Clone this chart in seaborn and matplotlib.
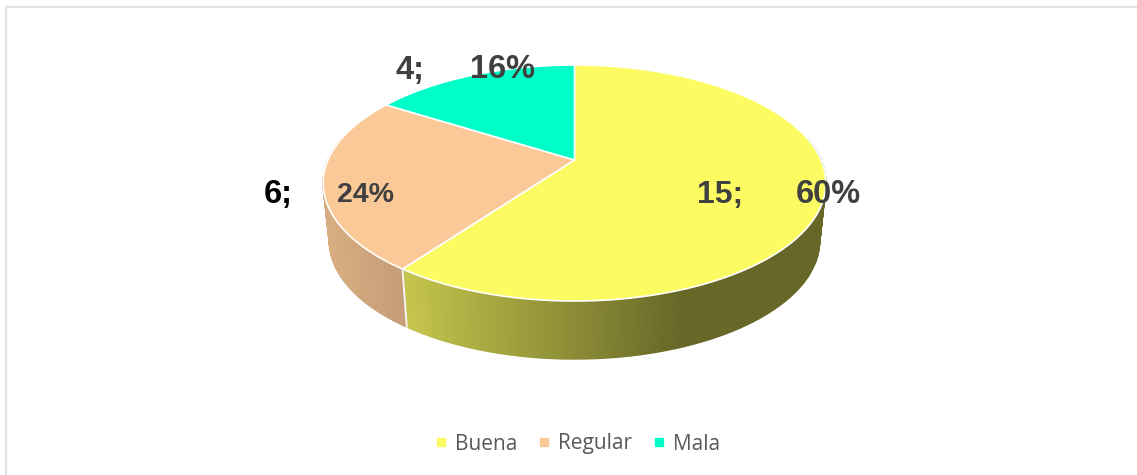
"""3D-look pie chart: calificacion Buena / Regular / Mala."""
import matplotlib
matplotlib.use("Agg")
import matplotlib.pyplot as plt
import numpy as np
import seaborn as sns

sns.set_theme(style="white")
plt.rcParams["font.family"] = ["Liberation Sans", "DejaVu Sans"]

categories = ["Buena", "Regular", "Mala"]
values = [15, 6, 4]
colors = ["#FCFC62", "#FBC997", "#00FFC8"]
label_color = "#404040"

# pie geometry in image pixels: apex, radii, perspective, rim depth, bottom rim shrink
CX, CY, RX, RY, K, DEPTH, SHRINK = 574.5, 160, 246.5, 113.5, 0.195, 58, 0.975


def project(theta):
    """Clockwise angle from 12 o'clock -> tilted disc (pixels)."""
    u, v = np.sin(theta), -np.cos(theta)
    w = 1 - K * v
    return CX + RX * u / w, CY + RY * v / w


def shade(x, base):
    """Side wall shading along x, darkest past x=680."""
    return np.array(base) * np.interp(x, [325, 405, 680], [0.86, 0.78, 0.41])


fig = plt.figure(figsize=(11.37, 4.75), dpi=100)
ax = fig.add_axes([0, 0, 1, 1])
ax.set_xlim(0, 1137)
ax.set_ylim(475, 0)
ax.axis("off")

# chart frame, open on the right and the bottom
ax.plot([6, 6, 1137], [475, 7, 7], color="#E2E2E2", lw=1.6, solid_joinstyle="miter")

fracs = np.array(values) / np.sum(values)
edges = np.concatenate([[0], np.cumsum(fracs)]) * 2 * np.pi

for i, cat in enumerate(categories):
    theta = np.linspace(edges[i], edges[i + 1], 240)
    x, y = project(theta)
    base = matplotlib.colors.to_rgb(colors[i])

    # side wall: only the part of the rim that faces the viewer
    front = (theta > np.pi / 2 - 0.2) & (theta < 3 * np.pi / 2 + 0.2)
    xf, yf = x[front], y[front]
    xb = CX + (xf - CX) * SHRINK
    for j in range(len(xf) - 1):
        col = shade((xf[j] + xf[j + 1]) / 2, base)
        ax.fill([xf[j], xf[j + 1], xb[j + 1], xb[j]],
                [yf[j], yf[j + 1], yf[j + 1] + DEPTH, yf[j] + DEPTH],
                facecolor=col, edgecolor=col, lw=1.0, zorder=2)

    # top face
    ax.fill(np.r_[CX, x], np.r_[CY, y], facecolor=colors[i], edgecolor="white",
            lw=1.2, zorder=3)

# light seam between the two front walls
xs, ys = project(edges[1])
ax.plot([xs, CX + (xs - CX) * SHRINK], [ys, ys + DEPTH], color="#F4F4F0", lw=1.4, zorder=4)

# data labels, laid out as in the source (value; percent)
pct = [f"{v / sum(values):.0%}" for v in values]
ax.text(720, 194.5, f"{values[0]};", ha="center", va="center", fontsize=23,
        fontweight="bold", color=label_color, zorder=5)
ax.text(828, 194.5, pct[0], ha="center", va="center", fontsize=23.5,
        fontweight="bold", color=label_color, zorder=5)
ax.text(278, 194.5, f"{values[1]};", ha="center", va="center", fontsize=23.5,
        fontweight="bold", color="black", zorder=5)
ax.text(365, 194.5, pct[1], ha="center", va="center", fontsize=20.5,
        fontweight="bold", color=label_color, zorder=5)
ax.text(410.5, 70, f"{values[2]};", ha="center", va="center", fontsize=23.5,
        fontweight="bold", color=label_color, zorder=5)
ax.text(502, 70, pct[2], ha="center", va="center", fontsize=23.5,
        fontweight="bold", color=label_color, zorder=5)

# legend
handles = [plt.Line2D([], [], ls="", marker="s", ms=6, color=c) for c in colors]
ax.legend(handles, categories, loc="center", bbox_to_anchor=(578 / 1137, 1 - 444 / 475),
          ncol=3, frameon=False, labelcolor="#595959", columnspacing=1.05,
          handlelength=0.5, handletextpad=0.4,
          prop={"family": "Open Sans", "size": 15})

fig.savefig("out.png", dpi=100)
